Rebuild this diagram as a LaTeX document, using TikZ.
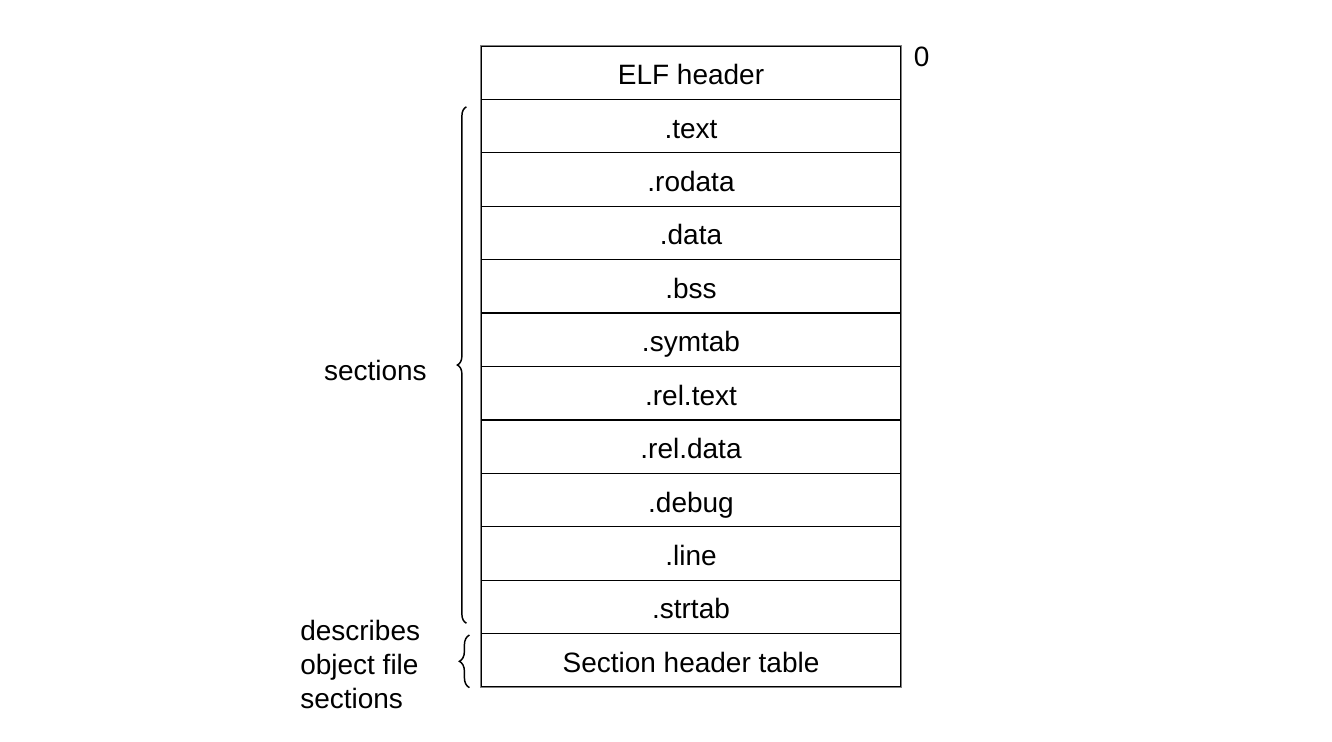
\documentclass[tikz,border=0pt]{standalone}
\usepackage{fontspec}
\setmainfont{Liberation Sans}
\usetikzlibrary{decorations.pathreplacing}

\tikzset{
    row/.style={draw=black, line width=0.9pt, minimum width=315pt, minimum height=40.07pt, inner sep=0pt, text height=20pt, text depth=2pt, font=\fontsize{21}{25.5}\selectfont},
    label/.style={font=\fontsize{21}{25.5}\selectfont, inner sep=0pt},
    curly/.style={decorate, decoration={brace, amplitude=#1}, line width=1.1pt}
}

\begin{document}
\begin{tikzpicture}[x=0.75pt, y=-0.75pt]
    \useasboundingbox (0,0) rectangle (1332,742);
    \def\H{53.42}

    % Rows of the object file
    \foreach \name [count=\i] in {ELF header, .text, .rodata, .data, .bss, .symtab, .rel.text, .rel.data, .debug, .line, .strtab, Section header table}
        \node[row] (r\i) at (691, 46+\H*\i-\H/2) {\name};

    % Outer border
    \draw[gray, line width=1.2pt] (r1.north west) rectangle (r12.south east);

    % Offset
    \node[label, anchor=west] (zero) at ([shift={(12,11)}]r1.north east) {0};

    % Braces
    \coordinate (SecBot) at ([shift={(-14,-11)}]r11.south west);
    \coordinate (SecTop) at ([shift={(-14,8)}]r2.north west);
    \draw[curly=6.75pt] (SecBot) -- (SecTop);
    \node[label, anchor=east] (sec) at (427,370) {sections};

    \coordinate (ShtBot) at ([shift={(-11,0)}]r12.south west);
    \coordinate (ShtTop) at ([shift={(-11,2)}]r12.north west);
    \draw[curly=7.5pt] (ShtBot) -- (ShtTop);
    \node[label, anchor=west, align=left] (desc) at (300,664) {describes\\object file\\sections};
\end{tikzpicture}
\end{document}
